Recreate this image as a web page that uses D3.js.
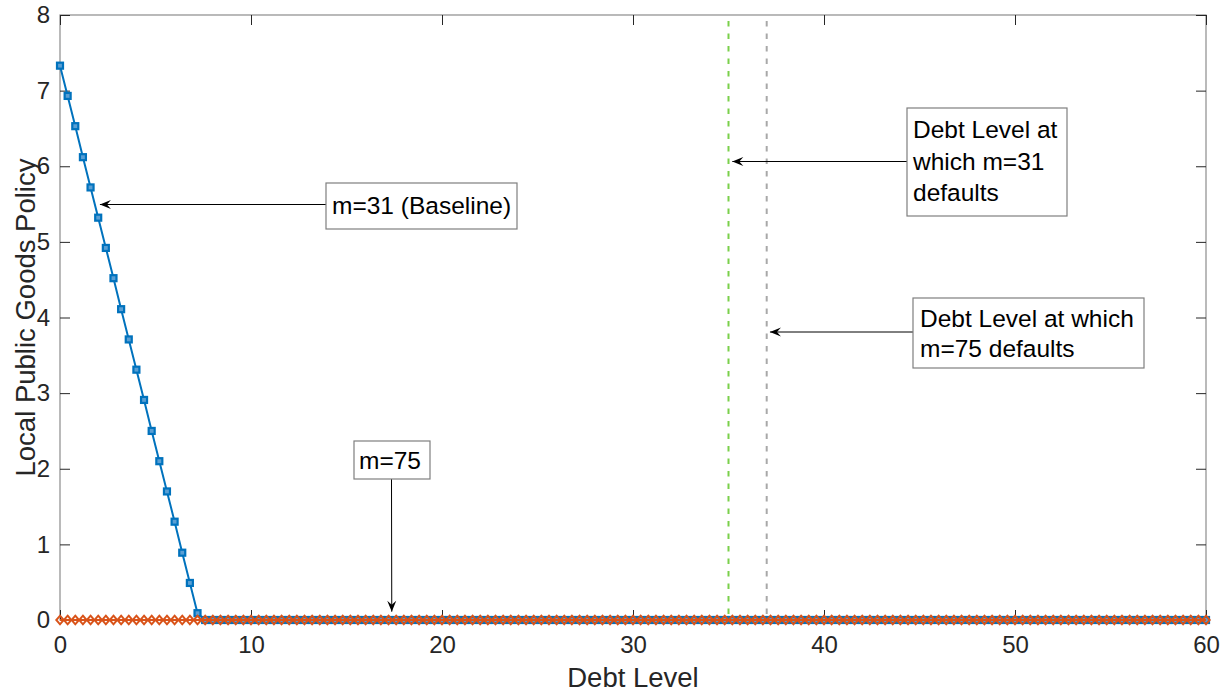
<!DOCTYPE html>
<html>
<head>
<meta charset="utf-8">
<script src="https://cdn.jsdelivr.net/npm/d3@7"></script>
<style>
  html, body { margin: 0; padding: 0; background: #fff; }
  svg { display: block; font-family: "Liberation Sans", Arial, Helvetica, sans-serif; }
</style>
</head>
<body>
<svg id="chart" width="1231" height="696"></svg>
<script>
// ---------------- DATA ----------------
const debtLevels = [
  0,0.4,0.8,1.2,1.6,2,2.4,2.8,3.2,3.6,
  4,4.4,4.8,5.2,5.6,6,6.4,6.8,7.2,7.6,
  8,8.4,8.8,9.2,9.6,10,10.4,10.8,11.2,11.6,
  12,12.4,12.8,13.2,13.6,14,14.4,14.8,15.2,15.6,
  16,16.4,16.8,17.2,17.6,18,18.4,18.8,19.2,19.6,
  20,20.4,20.8,21.2,21.6,22,22.4,22.8,23.2,23.6,
  24,24.4,24.8,25.2,25.6,26,26.4,26.8,27.2,27.6,
  28,28.4,28.8,29.2,29.6,30,30.4,30.8,31.2,31.6,
  32,32.4,32.8,33.2,33.6,34,34.4,34.8,35.2,35.6,
  36,36.4,36.8,37.2,37.6,38,38.4,38.8,39.2,39.6,
  40,40.4,40.8,41.2,41.6,42,42.4,42.8,43.2,43.6,
  44,44.4,44.8,45.2,45.6,46,46.4,46.8,47.2,47.6,
  48,48.4,48.8,49.2,49.6,50,50.4,50.8,51.2,51.6,
  52,52.4,52.8,53.2,53.6,54,54.4,54.8,55.2,55.6,
  56,56.4,56.8,57.2,57.6,58,58.4,58.8,59.2,59.6,
  60
];
const policyM31 = [
  7.33,6.93,6.53,6.12,5.72,5.32,4.92,4.52,4.11,3.71,
  3.31,2.91,2.50,2.10,1.70,1.30,0.89,0.49,0.09,0,
  0,0,0,0,0,0,0,0,0,0,
  0,0,0,0,0,0,0,0,0,0,
  0,0,0,0,0,0,0,0,0,0,
  0,0,0,0,0,0,0,0,0,0,
  0,0,0,0,0,0,0,0,0,0,
  0,0,0,0,0,0,0,0,0,0,
  0,0,0,0,0,0,0,0,0,0,
  0,0,0,0,0,0,0,0,0,0,
  0,0,0,0,0,0,0,0,0,0,
  0,0,0,0,0,0,0,0,0,0,
  0,0,0,0,0,0,0,0,0,0,
  0,0,0,0,0,0,0,0,0,0,
  0,0,0,0,0,0,0,0,0,0,
  0
];
const policyM75 = [
  0,0,0,0,0,0,0,0,0,0,
  0,0,0,0,0,0,0,0,0,0,
  0,0,0,0,0,0,0,0,0,0,
  0,0,0,0,0,0,0,0,0,0,
  0,0,0,0,0,0,0,0,0,0,
  0,0,0,0,0,0,0,0,0,0,
  0,0,0,0,0,0,0,0,0,0,
  0,0,0,0,0,0,0,0,0,0,
  0,0,0,0,0,0,0,0,0,0,
  0,0,0,0,0,0,0,0,0,0,
  0,0,0,0,0,0,0,0,0,0,
  0,0,0,0,0,0,0,0,0,0,
  0,0,0,0,0,0,0,0,0,0,
  0,0,0,0,0,0,0,0,0,0,
  0,0,0,0,0,0,0,0,0,0,
  0
];
const defaultDebtM31 = 35;
const defaultDebtM75 = 37;
const xTicks = [0, 10, 20, 30, 40, 50, 60];
const yTicks = [0, 1, 2, 3, 4, 5, 6, 7, 8];
const xLabel = "Debt Level";
const yLabel = "Local Public Goods Policy";

// annotations: text lines and arrow tip (data coords)
const annotationText = [
  ["m=31 (Baseline)"],
  ["m=75"],
  ["Debt Level at", "which m=31", "defaults"],
  ["Debt Level at which", "m=75 defaults"]
];
const annotationTip = [
  [2.09, 5.49],
  [17.37, 0.11],
  [35.2, 6.06],
  [37.17, 3.8]
];

// ---------------- LAYOUT ----------------
const svg = d3.select("#chart");
const plot = { left: 60, right: 1206, top: 15, bottom: 620 };

const x = d3.scaleLinear().domain([0, 60]).range([plot.left, plot.right]);
const y = d3.scaleLinear().domain([0, 8]).range([plot.bottom, plot.top]);

const tickColor = "#262626";
const boxColor = "#8c8c8c";
const blue = "#0072BD";
const orange = "#D95319";

// box
svg.append("rect")
  .attr("x", plot.left).attr("y", plot.top)
  .attr("width", plot.right - plot.left).attr("height", plot.bottom - plot.top)
  .attr("fill", "none").attr("stroke", boxColor).attr("stroke-width", 1.2);

function styleAxis(g, showText) {
  g.select(".domain").remove();
  g.selectAll(".tick line").attr("stroke", tickColor).attr("stroke-width", 1);
  g.selectAll(".tick text").attr("fill", tickColor)
    .attr("font-size", 24).attr("font-family", "Liberation Sans, Arial, sans-serif");
  if (!showText) g.selectAll(".tick text").remove();
}

svg.append("g").attr("transform", `translate(0,${plot.bottom})`)
  .call(d3.axisBottom(x).tickValues(xTicks).tickSizeInner(-10).tickSizeOuter(0).tickPadding(16).tickFormat(d3.format("d")))
  .call(g => styleAxis(g, true));
svg.append("g").attr("transform", `translate(0,${plot.top})`)
  .call(d3.axisTop(x).tickValues(xTicks).tickSizeInner(-10).tickSizeOuter(0))
  .call(g => styleAxis(g, false));
svg.append("g").attr("transform", `translate(${plot.left},0)`)
  .call(d3.axisLeft(y).tickValues(yTicks).tickSizeInner(-10).tickSizeOuter(0).tickPadding(10).tickFormat(d3.format("d")))
  .call(g => styleAxis(g, true));
svg.append("g").attr("transform", `translate(${plot.right},0)`)
  .call(d3.axisRight(y).tickValues(yTicks).tickSizeInner(-10).tickSizeOuter(0))
  .call(g => styleAxis(g, false));

// axis labels
svg.append("text")
  .attr("x", (plot.left + plot.right) / 2).attr("y", 687)
  .attr("text-anchor", "middle").attr("font-size", 27.5).attr("fill", tickColor)
  .text(xLabel);
svg.append("text")
  .attr("transform", `translate(35,${(plot.top + plot.bottom) / 2}) rotate(-90)`)
  .attr("text-anchor", "middle").attr("font-size", 27.5).attr("fill", tickColor)
  .text(yLabel);

// vertical dashed default lines
svg.append("line")
  .attr("x1", x(defaultDebtM31)).attr("x2", x(defaultDebtM31))
  .attr("y1", y(8) + 6).attr("y2", y(0))
  .attr("stroke", "#7AD04A").attr("stroke-width", 2).attr("stroke-dasharray", "5.5,7");
svg.append("line")
  .attr("x1", x(defaultDebtM75)).attr("x2", x(defaultDebtM75))
  .attr("y1", y(8) + 6).attr("y2", y(0))
  .attr("stroke", "#A8A8A8").attr("stroke-width", 2).attr("stroke-dasharray", "5.5,7");

// series
const m31 = debtLevels.map((d, i) => ({ x: d, y: policyM31[i] }));
const m75 = debtLevels.map((d, i) => ({ x: d, y: policyM75[i] }));
const line = d3.line().x(d => x(d.x)).y(d => y(d.y));

svg.append("path").datum(m31).attr("d", line)
  .attr("fill", "none").attr("stroke", blue).attr("stroke-width", 2);
svg.append("g").selectAll("rect").data(m31).join("rect")
  .attr("x", d => x(d.x) - 3).attr("y", d => y(d.y) - 3)
  .attr("width", 6).attr("height", 6)
  .attr("fill", "#5a9fd4").attr("stroke", blue).attr("stroke-width", 2.2);

svg.append("path").datum(m75).attr("d", line)
  .attr("fill", "none").attr("stroke", orange).attr("stroke-width", 2);
const diamond = "M0,-4.3L3.7,0L0,4.3L-3.7,0Z";
svg.append("g").selectAll("path").data(m75).join("path")
  .attr("transform", d => `translate(${x(d.x)},${y(d.y)})`)
  .attr("d", diamond)
  .attr("fill", "none").attr("stroke", orange).attr("stroke-width", 2);

// ---------------- ANNOTATIONS ----------------
const annBoxes = [
  { x: 326, y: 183, w: 191, h: 46, tx: 332, ty: 214, lh: 0, from: [326, 204.5] },
  { x: 354, y: 441, w: 76, h: 38, tx: 359, ty: 469, lh: 0, from: [391.5, 479] },
  { x: 907, y: 108, w: 160, h: 108, tx: 913, ty: 138, lh: 31.5, from: [907, 161.5] },
  { x: 913, y: 298, w: 231, h: 70, tx: 920, ty: 327, lh: 30, from: [913, 332] }
];

function arrowHead(sx, sy, ex, ey) {
  const ang = Math.atan2(ey - sy, ex - sx);
  const L = 11, Wd = 4.5, N = 7;
  const p = (a, b) => [ex + Math.cos(ang) * a - Math.sin(ang) * b, ey + Math.sin(ang) * a + Math.cos(ang) * b];
  const pts = [[0, 0], [-L, -Wd], [-N, 0], [-L, Wd]].map(([a, b]) => p(a, b));
  return "M" + pts.map(q => q.join(",")).join("L") + "Z";
}

annotationText.forEach((lines, i) => {
  const b = annBoxes[i];
  const [tdx, tdy] = annotationTip[i];
  let ex = x(tdx), ey = y(tdy);
  const [sx, sy] = b.from;
  if (i === 0 || i === 2 || i === 3) ey = sy;
  const g = svg.append("g");
  g.append("line").attr("x1", sx).attr("y1", sy).attr("x2", ex).attr("y2", ey)
    .attr("stroke", "#000").attr("stroke-width", 1);
  g.append("path").attr("d", arrowHead(sx, sy, ex, ey)).attr("fill", "#000");
  g.append("rect").attr("x", b.x).attr("y", b.y).attr("width", b.w).attr("height", b.h)
    .attr("fill", "#fff").attr("stroke", "#7f7f7f").attr("stroke-width", 1.2);
  lines.forEach((t, j) => {
    g.append("text").attr("x", b.tx).attr("y", b.ty + j * b.lh)
      .attr("font-size", 24.5).attr("fill", "#000").text(t);
  });
});
</script>
</body>
</html>
